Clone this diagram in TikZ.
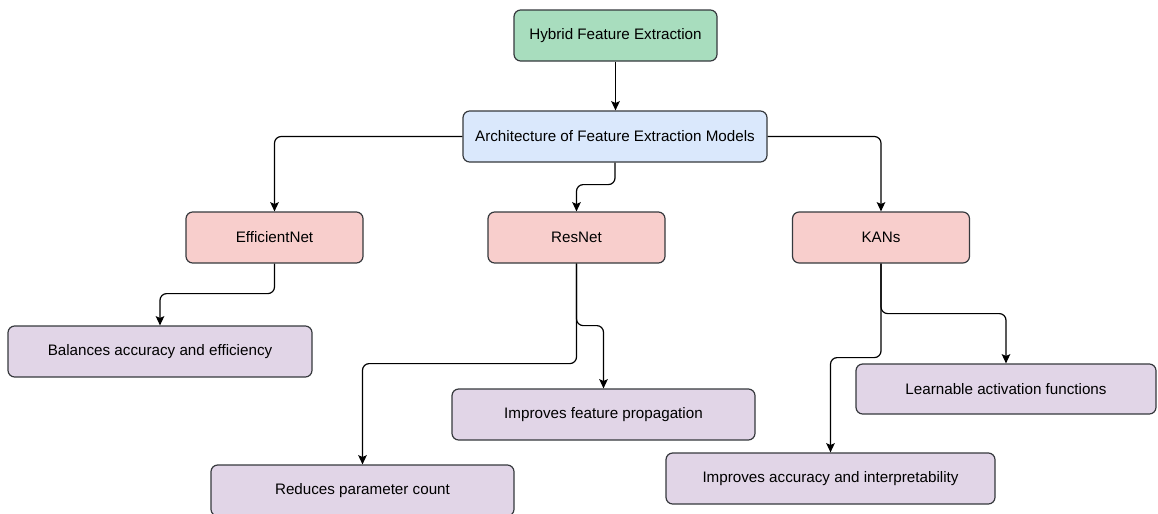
\documentclass[tikz,border=0pt]{standalone}
\usepackage{fontspec}
\setmainfont{Liberation Sans}
\usetikzlibrary{arrows.meta}
\definecolor{rootfill}{RGB}{168,221,190}
\definecolor{archfill}{RGB}{218,232,252}
\definecolor{modelfill}{RGB}{248,206,204}
\definecolor{leaffill}{RGB}{225,213,231}
\definecolor{edge}{RGB}{54,57,61}
\tikzset{
  box/.style={draw=edge, line width=0.9pt, rounded corners=5pt, align=center,
    inner sep=0pt, minimum height=38.25pt,
    font=\fontsize{11.4pt}{13.7pt}\selectfont},
  rootbox/.style={box, fill=rootfill},
  archbox/.style={box, fill=archfill},
  modelbox/.style={box, fill=modelfill},
  leafbox/.style={box, fill=leaffill},
  link/.style={draw=black, line width=0.9pt, rounded corners=5pt,
    -{Stealth[length=7pt,width=6.5pt,inset=1.5pt]}}
}
\begin{document}
\begin{tikzpicture}[x=0.75pt,y=-0.75pt]
\useasboundingbox (0,0) rectangle (1158,514);
% tree nodes
\node[rootbox, minimum width=152.25pt] (hyb) at (615.5,35.5) {Hybrid Feature Extraction};
\node[archbox, minimum width=228pt] (arch) at (615,136.5) {Architecture of Feature Extraction Models};
\node[modelbox, minimum width=132.75pt] (eff) at (274.5,237.5) {EfficientNet};
\node[modelbox, minimum width=132.75pt] (res) at (576.5,237.5) {ResNet};
\node[modelbox, minimum width=132.75pt] (kan) at (881,237.5) {KANs};
\node[leafbox, minimum width=228pt] (bal) at (160,351.5) {Balances accuracy and efficiency};
\node[leafbox, minimum width=227.25pt] (prop) at (603.5,414.5) {Improves feature propagation};
\node[leafbox, minimum width=227.25pt] (red) at (362.5,490.5) {Reduces parameter count};
\node[leafbox, minimum width=225pt, minimum height=37.5pt] (learn) at (1006,389) {Learnable activation functions};
\node[leafbox, minimum width=246.75pt] (acc) at (830.5,478.5) {Improves accuracy and interpretability};
% connectors
\draw[link] (hyb.south) -- (hyb.south |- arch.north);
\draw[link] (arch.west) -| (eff.north);
\draw[link] (arch.east) -| (kan.north);
\draw[link] (arch.south) -- ++(0,22) -| (res.north);
\draw[link] (eff.south) -- ++(0,30) -| (bal.north);
\draw[link] (res.south) -- ++(0,100) -| (red.north);
\draw[link] (res.south) -- ++(0,62) -| (prop.north);
\draw[link] (kan.south) -- ++(0,94) -| (acc.north);
\draw[link] (kan.south) -- ++(0,50) -| (learn.north);
\end{tikzpicture}
\end{document}
